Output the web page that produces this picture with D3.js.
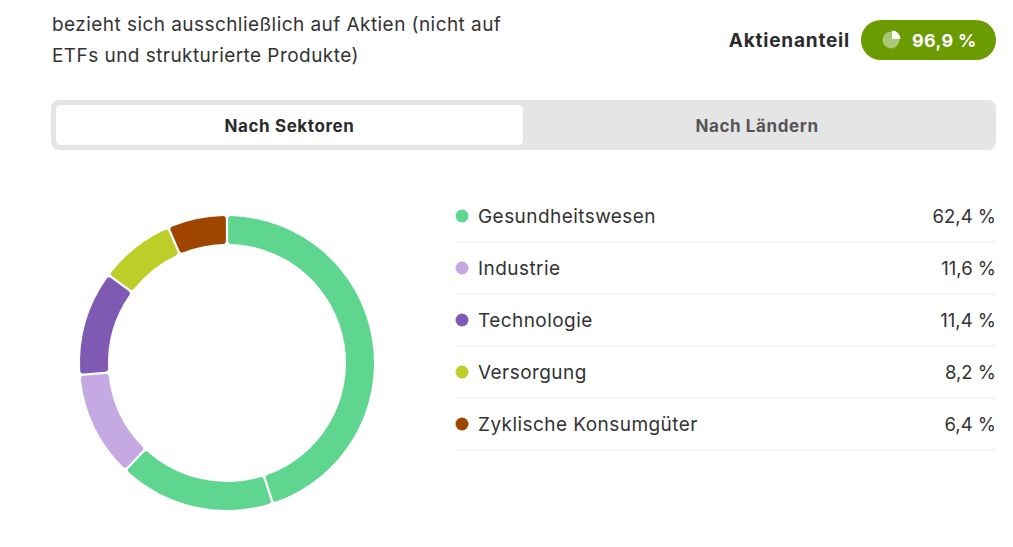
<!DOCTYPE html>
<html><head><meta charset="utf-8">
<script src="https://cdn.jsdelivr.net/npm/d3@7/dist/d3.min.js"></script>
<style>
body{margin:0;background:#fff;}
svg{display:block;font-family:Inter,"Noto Sans",sans-serif;}
</style></head>
<body><svg id="c" width="1013" height="547"></svg>
<script>
// Data
const categories = ["Gesundheitswesen","Industrie","Technologie","Versorgung","Zyklische Konsumgüter"];
const values = [62.4, 11.6, 11.4, 8.2, 6.4];
const colors = ["#5fd690","#c4a9e2","#7f5ab2","#bdce28","#a04500"];
// ring segments as drawn (Gesundheitswesen shown as two pieces)
const segCategory = ["Gesundheitswesen","Gesundheitswesen","Industrie","Technologie","Versorgung","Zyklische Konsumgüter"];
const segValues = [45.3, 17.1, 11.6, 11.4, 8.2, 6.4];
const noteLines = ["bezieht sich ausschließlich auf Aktien (nicht auf","ETFs und strukturierte Produkte)"];
const shareLabel = "Aktienanteil";
const shareValue = 96.9;
const tabs = ["Nach Sektoren","Nach Ländern"];

const fmt = v => d3.format(".1f")(v).replace(".", ",") + " %";
const svg = d3.select("#c");

// Note text
svg.append("text").attr("x",52).attr("y",31).attr("fill","#333").attr("font-size",19).attr("letter-spacing",0.44)
  .selectAll("tspan").data(noteLines).join("tspan")
  .attr("x",52).attr("dy",(d,i)=>i?31:0).text(d=>d);

// Aktienanteil
svg.append("text").attr("x",850).attr("y",46.5).attr("text-anchor","end")
  .attr("font-size",19).attr("font-weight",700).attr("letter-spacing",0.8).attr("fill","#2b2b2b").text(shareLabel);
svg.append("rect").attr("x",861).attr("y",20).attr("width",135).attr("height",40).attr("rx",20).attr("fill","#6a9b00");
const ic = svg.append("g").attr("transform","translate(891,40)");
ic.append("circle").attr("r",8.5).attr("fill","#a9c874");
ic.append("path").attr("transform","translate(1,-1)")
  .attr("d", d3.arc().innerRadius(0).outerRadius(8.5)({startAngle:0,endAngle:Math.PI/2}))
  .attr("fill","#fff");
svg.append("text").attr("x",912).attr("y",47).attr("font-size",18).attr("font-weight",700).attr("letter-spacing",0.3).attr("fill","#fff").text(fmt(shareValue));

// Tabs
svg.append("rect").attr("x",51).attr("y",100).attr("width",945).attr("height",50).attr("rx",8).attr("fill","#e5e5e5");
svg.append("rect").attr("x",56).attr("y",105).attr("width",467).attr("height",40).attr("rx",5).attr("fill","#fff");
svg.append("text").attr("x",289.5).attr("y",132).attr("text-anchor","middle").attr("font-size",17).attr("font-weight",700).attr("letter-spacing",0.6).attr("fill","#2b2b2b").text(tabs[0]);
svg.append("text").attr("x",757).attr("y",132).attr("text-anchor","middle").attr("font-size",17).attr("font-weight",700).attr("letter-spacing",0.6).attr("fill","#555").text(tabs[1]);

// Donut
const color = d3.scaleOrdinal().domain(categories).range(colors);
const pie = d3.pie().sort(null).value(d=>d.v).padAngle(0.012);
const arc = d3.arc().innerRadius(119).outerRadius(147).cornerRadius(3);
const segs = segValues.map((v,i)=>({c:segCategory[i], v}));
svg.append("g").attr("transform","translate(227,363)")
  .selectAll("path").data(pie(segs)).join("path")
  .attr("d",arc).attr("fill",d=>color(d.data.c));

// Legend
const y = d3.scaleBand().domain(categories).range([190,450]).paddingInner(0);
const lg = svg.append("g");
const rows = lg.selectAll("g").data(categories).join("g")
  .attr("transform",d=>`translate(0,${y(d)+y.bandwidth()/2})`);
rows.append("circle").attr("cx",462).attr("cy",0).attr("r",6.5).attr("fill",d=>color(d));
rows.append("text").attr("x",478).attr("y",7).attr("font-size",19).attr("letter-spacing",0.44).attr("fill","#333").text(d=>d);
rows.append("text").attr("x",996).attr("y",7).attr("text-anchor","end").attr("font-size",18.5).attr("fill","#333")
  .text((d,i)=>fmt(values[i]));
rows.append("line").attr("x1",455).attr("x2",996).attr("y1",y.bandwidth()/2).attr("y2",y.bandwidth()/2)
  .attr("stroke","#ececec").attr("stroke-width",1.2);
</script></body></html>
